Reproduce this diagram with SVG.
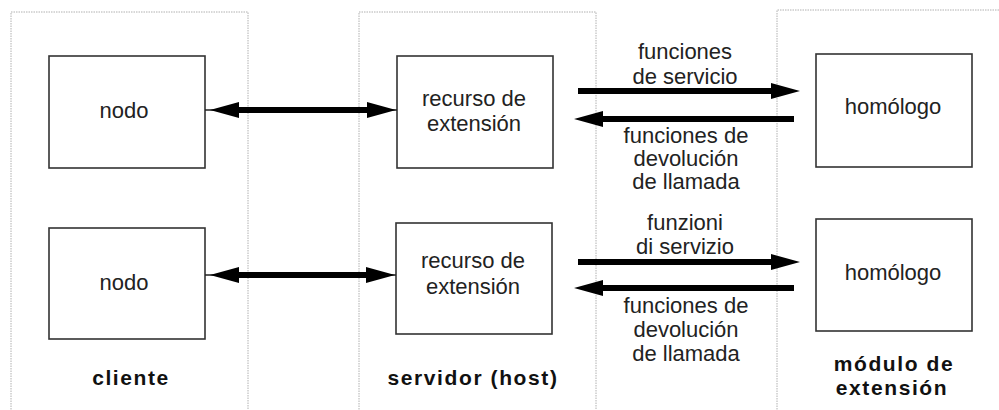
<svg xmlns="http://www.w3.org/2000/svg" width="999" height="410" viewBox="0 0 999 410">
<style>
.panel{fill:none;stroke:#b0b0b0;stroke-width:1;stroke-dasharray:1.5,1}
.box{fill:#fff;stroke:#333;stroke-width:1.6}
.t{font-family:"Liberation Sans",Arial,sans-serif;font-size:22px;fill:#222;text-anchor:middle}
.b{font-family:"Liberation Sans",Arial,sans-serif;font-size:21px;font-weight:bold;letter-spacing:1.6px;fill:#111;text-anchor:middle}
.thick{fill:none;stroke:#000;stroke-width:6}
.thin{fill:none;stroke:#222;stroke-width:1.5}
</style>
<defs>
<marker id="ah" markerUnits="userSpaceOnUse" markerWidth="30" markerHeight="18" viewBox="0 0 30 18" refX="0" refY="9" orient="auto-start-reverse">
<path d="M0,1 L29,9 L0,17 Z" fill="#000"/>
</marker>
</defs>
<rect width="999" height="410" fill="#fff"/>
<g id="panels">
<path class="panel" d="M11,412 V12 H248 V412"/>
<path class="panel" d="M359,412 V12 H596 V412"/>
<path class="panel" d="M777,412 V10 H1002"/>
<text class="b" x="131" y="385">cliente</text>
<text class="b" x="473" y="385">servidor (host)</text>
<text class="b" x="894" y="371">módulo de</text>
<text class="b" x="892" y="395">extensión</text>
</g>
<g id="node1">
<rect class="box" x="49" y="56" width="156" height="112"/>
<text class="t" x="124" y="118">nodo</text>
</g>
<g id="node2">
<rect class="box" x="49" y="228" width="156" height="111"/>
<text class="t" x="124" y="290">nodo</text>
</g>
<g id="recurso1">
<rect class="box" x="397" y="56" width="156" height="112"/>
<text class="t" x="474" y="106">recurso de</text>
<text class="t" x="474" y="131">extensión</text>
</g>
<g id="recurso2">
<rect class="box" x="396" y="223" width="156" height="111"/>
<text class="t" x="473" y="268">recurso de</text>
<text class="t" x="473" y="294">extensión</text>
</g>
<g id="homologo1">
<rect class="box" x="816" y="54" width="156" height="113"/>
<text class="t" x="893" y="114">homólogo</text>
</g>
<g id="homologo2">
<rect class="box" x="816" y="219" width="156" height="112"/>
<text class="t" x="893" y="280">homólogo</text>
</g>
<g id="connectors">
<line class="thin" x1="205" y1="110" x2="397" y2="110"/>
<path class="thick" d="M239,110 H367" marker-start="url(#ah)" marker-end="url(#ah)"/>
<line class="thin" x1="205" y1="275" x2="396" y2="275"/>
<path class="thick" d="M239,275 H366" marker-start="url(#ah)" marker-end="url(#ah)"/>
<path class="thick" d="M578,91 H771" marker-end="url(#ah)"/>
<path class="thick" d="M794,119 H603" marker-end="url(#ah)"/>
<path class="thick" d="M578,262 H771" marker-end="url(#ah)"/>
<path class="thick" d="M794,288 H603" marker-end="url(#ah)"/>
</g>
<g id="labels">
<text class="t" x="685" y="59">funciones</text>
<text class="t" x="685" y="84">de servicio</text>
<text class="t" x="686" y="143">funciones de</text>
<text class="t" x="686" y="166">devolución</text>
<text class="t" x="686" y="189">de llamada</text>
<text class="t" x="685" y="230">funzioni</text>
<text class="t" x="685" y="254">di servizio</text>
<text class="t" x="686" y="313">funciones de</text>
<text class="t" x="686" y="337">devolución</text>
<text class="t" x="686" y="361">de llamada</text>
</g>
</svg>
